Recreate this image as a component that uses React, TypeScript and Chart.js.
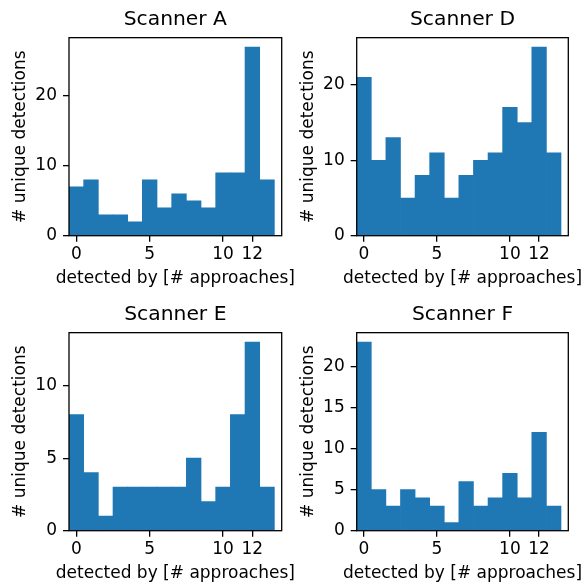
import React, { useEffect, useRef } from 'react';
import { Chart, registerables } from 'chart.js';

Chart.register(...registerables);

// ---- data ----
const binCenters = [0, 1, 2, 3, 4, 5, 6, 7, 8, 9, 10, 11, 12, 13];
const scannerA = [7, 8, 3, 3, 2, 8, 4, 6, 5, 4, 9, 9, 27, 8];
const scannerD = [21, 10, 13, 5, 8, 11, 5, 8, 10, 11, 17, 15, 25, 11];
const scannerE = [8, 4, 1, 3, 3, 3, 3, 3, 5, 2, 3, 8, 13, 3];
const scannerF = [23, 5, 3, 5, 4, 3, 1, 6, 3, 4, 7, 4, 12, 3];
const xTickValues = [0, 5, 10, 12];
const yTicksA = [0, 10, 20];
const yTicksD = [0, 10, 20];
const yTicksE = [0, 5, 10];
const yTicksF = [0, 5, 10, 15, 20];
const panelTitles = ['Scanner A', 'Scanner D', 'Scanner E', 'Scanner F'];
const xLabel = 'detected by [# approaches]';
const yLabel = '# unique detections';

const FONT = 'DejaVu Sans';
const BAR = '#1f77b4';
const LABEL_SIZE = 17;
const TITLE_SIZE = 20.3;
const TICK_LEN = 6;
const LINE_W = 1.3;
const X_TITLE_BASELINE = 283.3;

const framePlugin = {
  id: 'frame',
  afterDatasetsDraw(chart: any) {
    const { ctx, chartArea } = chart;
    ctx.save();
    ctx.strokeStyle = '#000';
    ctx.lineWidth = LINE_W;
    ctx.strokeRect(chartArea.left, chartArea.top, chartArea.right - chartArea.left, chartArea.bottom - chartArea.top);
    ctx.restore();
  },
};

// x-axis title drawn without Chart.js' maxWidth squeeze (the label is wider than the plot area)
const xTitlePlugin = {
  id: 'xTitleFree',
  afterDraw(chart: any) {
    const { ctx, chartArea } = chart;
    ctx.save();
    ctx.fillStyle = '#000';
    ctx.font = `${LABEL_SIZE}px "${FONT}"`;
    ctx.textAlign = 'center';
    ctx.textBaseline = 'alphabetic';
    ctx.fillText(xLabel, (chartArea.left + chartArea.right) / 2, X_TITLE_BASELINE);
    ctx.restore();
  },
};

type PanelProps = {
  title: string;
  values: number[];
  yTicks: number[];
  left: number;
  top: number;
  width: number;
  height: number;
  yWidth: number;
  rightPad: number;
  yTitlePadTop: number;
};

function Panel(p: PanelProps) {
  const ref = useRef<HTMLCanvasElement | null>(null);
  useEffect(() => {
    if (!ref.current) return;
    const ymax = Math.max(...p.values) * 1.05;
    const chart = new Chart(ref.current, {
      type: 'bar',
      data: {
        datasets: [
          {
            data: p.values.map((v, i) => ({ x: binCenters[i], y: v })),
            backgroundColor: BAR,
            borderWidth: 0,
            barPercentage: 1,
            categoryPercentage: 1,
          } as any,
        ],
      },
      options: {
        animation: false,
        responsive: false,
        maintainAspectRatio: false,
        layout: { padding: { left: 0, right: p.rightPad, top: 0, bottom: 0 } },
        plugins: {
          legend: { display: false },
          tooltip: { enabled: false },
          title: {
            display: true,
            text: p.title,
            fullSize: false,
            color: '#000',
            font: { family: FONT, size: TITLE_SIZE, weight: 'normal', lineHeight: 1.2 },
            padding: { top: 8, bottom: 5.3 },
          },
        },
        scales: {
          x: {
            type: 'linear',
            min: -0.5,
            max: 14,
            offset: false,
            afterBuildTicks: (s: any) => {
              s.ticks = xTickValues.map((v) => ({ value: v }));
            },
            afterFit: (s: any) => {
              s.height = p.height - 235.7;
            },
            grid: { display: true, offset: false, drawOnChartArea: false, drawTicks: true, tickLength: TICK_LEN, color: '#000', lineWidth: LINE_W },
            border: { display: false },
            ticks: {
              color: '#000',
              font: { family: FONT, size: LABEL_SIZE, lineHeight: 1.2 },
              padding: 2.2,
              autoSkip: false,
              maxRotation: 0,
              callback: (v: any) => String(v),
            },
            title: { display: false },
          },
          y: {
            type: 'linear',
            min: 0,
            max: ymax,
            afterBuildTicks: (s: any) => {
              s.ticks = p.yTicks.map((v) => ({ value: v }));
            },
            afterFit: (s: any) => {
              s.width = p.yWidth;
            },
            grid: { display: true, drawOnChartArea: false, drawTicks: true, tickLength: TICK_LEN, color: '#000', lineWidth: LINE_W },
            border: { display: false },
            ticks: {
              color: '#000',
              font: { family: FONT, size: LABEL_SIZE, lineHeight: 1.2 },
              padding: 6,
              autoSkip: false,
              callback: (v: any) => String(v),
            },
            title: {
              display: true,
              text: yLabel,
              color: '#000',
              font: { family: FONT, size: LABEL_SIZE, lineHeight: 1.2 },
              padding: { top: p.yTitlePadTop, bottom: 0 },
            },
          },
        },
      } as any,
      plugins: [framePlugin, xTitlePlugin],
    });
    return () => chart.destroy();
  }, []);
  return (
    <canvas
      ref={ref}
      width={p.width}
      height={p.height}
      style={{ position: 'absolute', left: p.left, top: p.top, width: p.width, height: p.height }}
    />
  );
}

export default function App() {
  const cols = [
    { left: 0, width: 296, yWidth: 69, rightPad: 296 - 281.7, yTitlePadTop: 9.9 },
    { left: 287, width: 295, yWidth: 69.7, rightPad: 295 - (568.3 - 287), yTitlePadTop: 10.9 },
  ];
  const rows = [
    { top: 0, height: 290 },
    { top: 295, height: 288 },
  ];
  const panels = [
    { values: scannerA, yTicks: yTicksA },
    { values: scannerD, yTicks: yTicksD },
    { values: scannerE, yTicks: yTicksE },
    { values: scannerF, yTicks: yTicksF },
  ];
  return (
    <div style={{ position: 'fixed', left: 0, top: 0, width: 582, height: 583, background: '#fff', overflow: 'hidden' }}>
      {panels.map((pn, i) => {
        const c = cols[i % 2];
        const r = rows[Math.floor(i / 2)];
        return (
          <Panel
            key={i}
            title={panelTitles[i]}
            values={pn.values}
            yTicks={pn.yTicks}
            left={c.left}
            top={r.top}
            width={c.width}
            height={r.height}
            yWidth={c.yWidth}
            rightPad={c.rightPad}
            yTitlePadTop={c.yTitlePadTop}
          />
        );
      })}
    </div>
  );
}
